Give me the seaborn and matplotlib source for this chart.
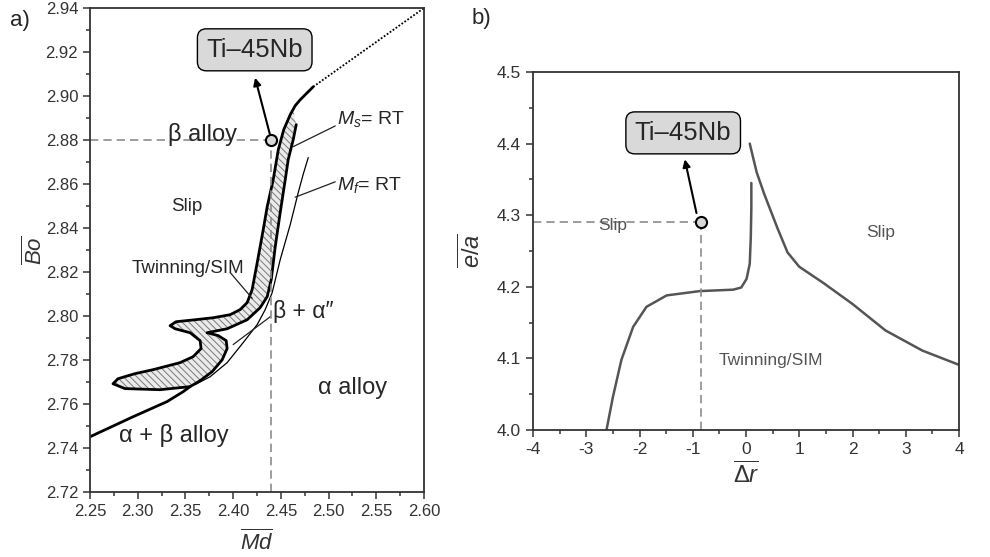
import numpy as np
import pandas as pd
import seaborn as sns
import matplotlib.pyplot as plt
from matplotlib.ticker import MultipleLocator, FormatStrFormatter

# ---- panel a: Bo vs Md map ----
# hatched band (closed outline, clockwise from the top)
band_md = [2.4629, 2.4661, 2.4629, 2.4577, 2.4546, 2.4493, 2.4441, 2.4399, 2.4357, 2.4283,
           2.4147, 2.3937, 2.3727, 2.3843, 2.3927, 2.3937, 2.3885, 2.3780, 2.3654, 2.3549,
           2.3234, 2.2867, 2.2741, 2.2794, 2.2972, 2.3161, 2.3444, 2.3580, 2.3664, 2.3654,
           2.3549, 2.3392, 2.3339, 2.3402, 2.3601, 2.3790, 2.3969, 2.4073, 2.4147, 2.4199,
           2.4252, 2.4315, 2.4357, 2.4420, 2.4473, 2.4530, 2.4598]
band_bo = [2.8938, 2.8870, 2.8801, 2.8711, 2.8620, 2.8470, 2.8315, 2.8165, 2.8088, 2.8038,
           2.7983, 2.7942, 2.7924, 2.7911, 2.7888, 2.7852, 2.7801, 2.7747, 2.7706, 2.7679,
           2.7665, 2.7670, 2.7692, 2.7715, 2.7738, 2.7756, 2.7788, 2.7815, 2.7852, 2.7888,
           2.7924, 2.7942, 2.7956, 2.7974, 2.7983, 2.7992, 2.8006, 2.8029, 2.8061, 2.8120,
           2.8242, 2.8392, 2.8497, 2.8620, 2.8756, 2.8847, 2.8915]
# alpha+beta boundary
lower_md = [2.25, 2.2951, 2.3308, 2.3476, 2.3549]
lower_bo = [2.7451, 2.7542, 2.7611, 2.7656, 2.7679]
# beta boundary above the band
top_md = [2.4598, 2.4650, 2.4703, 2.4776, 2.4839]
top_bo = [2.8915, 2.8956, 2.8983, 2.9015, 2.9042]
dotted_md = [2.4839, 2.60]
dotted_bo = [2.9042, 2.94]
# Mf = RT line
mf_md = [2.4787, 2.4734, 2.4682, 2.4598, 2.4493, 2.4409, 2.4336, 2.4252, 2.4105, 2.3937, 2.3759, 2.3601]
mf_bo = [2.8720, 2.8644, 2.8561, 2.8415, 2.8256, 2.8106, 2.8029, 2.7961, 2.7879, 2.7788, 2.7724, 2.7688]
ti45nb_a = (2.44, 2.88)

# ---- panel b: e/a vs delta r map ----
left_dr = [-2.62, -2.50, -2.34, -2.12, -1.87, -1.49, -0.87, -0.24, -0.09, 0.01, 0.07, 0.09, 0.10, 0.10]
left_ea = [4.0, 4.046, 4.098, 4.144, 4.172, 4.188, 4.194, 4.196, 4.199, 4.211, 4.232, 4.27, 4.31, 4.345]
right_dr = [0.07, 0.20, 0.34, 0.59, 0.78, 1.0, 1.46, 2.0, 2.62, 3.31, 4.0]
right_ea = [4.40, 4.36, 4.33, 4.282, 4.248, 4.228, 4.205, 4.176, 4.139, 4.111, 4.091]
ti45nb_b = (-0.85, 4.29)

sns.set_theme(style='ticks')
plt.rcParams['font.family'] = ['Liberation Sans', 'DejaVu Sans']
plt.rcParams['mathtext.fontset'] = 'custom'
plt.rcParams['mathtext.rm'] = 'Liberation Sans'
plt.rcParams['mathtext.it'] = 'Liberation Sans:italic'
plt.rcParams['axes.unicode_minus'] = False
plt.rcParams['hatch.linewidth'] = 0.7

fig = plt.figure(figsize=(9.9, 5.57), dpi=100)
ax1 = fig.add_axes([0.0909, 0.1167, 0.3374, 0.8689])
ax2 = fig.add_axes([0.5384, 0.228, 0.4303, 0.6427])

dark = '#333333'
for ax in (ax1, ax2):
    for s in ax.spines.values():
        s.set_visible(True)
        s.set_color(dark)
        s.set_linewidth(1.3)
    ax.tick_params(which='both', direction='out', color=dark, labelcolor=dark,
                   top=False, right=False, width=1.1)
    ax.tick_params(which='major', length=5)
    ax.tick_params(which='minor', length=3)

# ---------- panel a ----------
ax1.fill(band_md, band_bo, facecolor='#ebebeb', edgecolor='#7a7a7a', hatch='\\\\\\\\\\', linewidth=0)
outline = pd.DataFrame({'md': band_md[1:] + top_md[1:], 'bo': band_bo[1:] + top_bo[1:]})
sns.lineplot(data=outline, x='md', y='bo', sort=False, estimator=None, color='black', lw=2, ax=ax1)
sns.lineplot(x=lower_md, y=lower_bo, sort=False, estimator=None, color='black', lw=2, ax=ax1)
sns.lineplot(x=dotted_md, y=dotted_bo, sort=False, estimator=None, color='black', lw=1.3,
             linestyle=(0, (1, 1)), ax=ax1)
sns.lineplot(x=mf_md, y=mf_bo, sort=False, estimator=None, color='black', lw=0.9, ax=ax1)

# leader lines
for (x0, y0), (x1, y1) in [((2.397, 2.8197), (2.42, 2.808)),
                           ((2.439, 2.7997), (2.40, 2.787)),
                           ((2.507, 2.8864), (2.463, 2.877)),
                           ((2.507, 2.861), (2.465, 2.854))]:
    ax1.plot([x0, x1], [y0, y1], color='#222222', lw=0.9)

# Ti-45Nb guide lines
ax1.plot([2.25, ti45nb_a[0]], [ti45nb_a[1]] * 2, color='#8c8c8c', lw=1.2, dashes=(5, 3))
ax1.plot([ti45nb_a[0]] * 2, [2.72, ti45nb_a[1]], color='#8c8c8c', lw=1.2, dashes=(5, 3))
ax1.plot(*ti45nb_a, 'o', ms=8, mfc='#d9d9d9', mec='black', mew=1.5, zorder=5)

ax1.text(2.3675, 2.8825, 'β alloy', fontsize=17, ha='center', va='center')
ax1.text(2.3518, 2.850, 'Slip', fontsize=13.5, ha='center', va='center')
ax1.text(2.3528, 2.8215, 'Twinning/SIM', fontsize=13.5, ha='center', va='center')
ax1.text(2.4420, 2.8019, 'β + α″', fontsize=16.5, ha='left', va='center')
ax1.text(2.5248, 2.7674, 'α alloy', fontsize=17, ha='center', va='center')
ax1.text(2.3381, 2.7456, 'α + β alloy', fontsize=17, ha='center', va='center')
ax1.text(2.5090, 2.8896, r'$M_s$= RT', fontsize=14, ha='left', va='center')
ax1.text(2.5090, 2.8597, r'$M_f$= RT', fontsize=14, ha='left', va='center')

box = dict(boxstyle='round,pad=0.35,rounding_size=0.35', fc='#d9d9d9', ec='black', lw=1)
ax1.text(2.4226, 2.921, 'Ti–45Nb', fontsize=18.5, ha='center', va='center', bbox=box)
ax1.annotate('', xy=(2.423, 2.9083), xytext=(2.4385, 2.8826),
             arrowprops=dict(arrowstyle='-|>', color='black', lw=1.5, mutation_scale=11,
                             shrinkA=0, shrinkB=0))

ax1.set_xlim(2.25, 2.60)
ax1.set_ylim(2.72, 2.94)
ax1.xaxis.set_major_locator(MultipleLocator(0.05))
ax1.xaxis.set_minor_locator(MultipleLocator(0.025))
ax1.yaxis.set_major_locator(MultipleLocator(0.02))
ax1.yaxis.set_minor_locator(MultipleLocator(0.01))
ax1.xaxis.set_major_formatter(FormatStrFormatter('%.2f'))
ax1.yaxis.set_major_formatter(FormatStrFormatter('%.2f'))
ax1.tick_params(labelsize=12)
ax1.set_xlabel(r'$\overline{Md}$', fontsize=16, labelpad=8, color=dark)
ax1.set_ylabel(r'$\overline{Bo}$', fontsize=16, labelpad=-1, color=dark)

# ---------- panel b ----------
sns.lineplot(x=left_dr, y=left_ea, sort=False, estimator=None, color='#555555', lw=1.8, ax=ax2)
sns.lineplot(x=right_dr, y=right_ea, sort=False, estimator=None, color='#555555', lw=1.8, ax=ax2)
ax2.plot([-4, ti45nb_b[0]], [ti45nb_b[1]] * 2, color='#8c8c8c', lw=1.2, dashes=(5, 3))
ax2.plot([ti45nb_b[0]] * 2, [4.0, ti45nb_b[1]], color='#8c8c8c', lw=1.2, dashes=(5, 3))
ax2.plot(*ti45nb_b, 'o', ms=8, mfc='#d9d9d9', mec='black', mew=1.5, zorder=5)

ax2.text(-2.50, 4.285, 'Slip', fontsize=12.5, color='#555555', ha='center', va='center')
ax2.text(2.53, 4.276, 'Slip', fontsize=12.5, color='#555555', ha='center', va='center')
ax2.text(0.46, 4.097, 'Twinning/SIM', fontsize=12.5, color='#555555', ha='center', va='center')

ax2.text(-1.18, 4.415, 'Ti–45Nb', fontsize=18.5, ha='center', va='center', bbox=box)
ax2.annotate('', xy=(-1.15, 4.378), xytext=(-0.93, 4.303),
             arrowprops=dict(arrowstyle='-|>', color='black', lw=1.5, mutation_scale=11,
                             shrinkA=0, shrinkB=0))

ax2.set_xlim(-4, 4)
ax2.set_ylim(4.0, 4.5)
ax2.xaxis.set_major_locator(MultipleLocator(1))
ax2.xaxis.set_minor_locator(MultipleLocator(0.5))
ax2.yaxis.set_major_locator(MultipleLocator(0.1))
ax2.yaxis.set_minor_locator(MultipleLocator(0.05))
ax2.xaxis.set_major_formatter(FormatStrFormatter('%d'))
ax2.yaxis.set_major_formatter(FormatStrFormatter('%.1f'))
ax2.tick_params(labelsize=12.5)
ax2.set_xlabel(r'$\overline{\Delta r}$', fontsize=17, labelpad=4, color=dark)
ax2.set_ylabel(r'$\overline{e/a}$', fontsize=17, labelpad=8, color=dark)

fig.text(0.0202, 0.964, 'a)', fontsize=16, ha='center', va='center')
fig.text(0.486, 0.966, 'b)', fontsize=16, ha='center', va='center')

fig.savefig('out.png', dpi=100)
